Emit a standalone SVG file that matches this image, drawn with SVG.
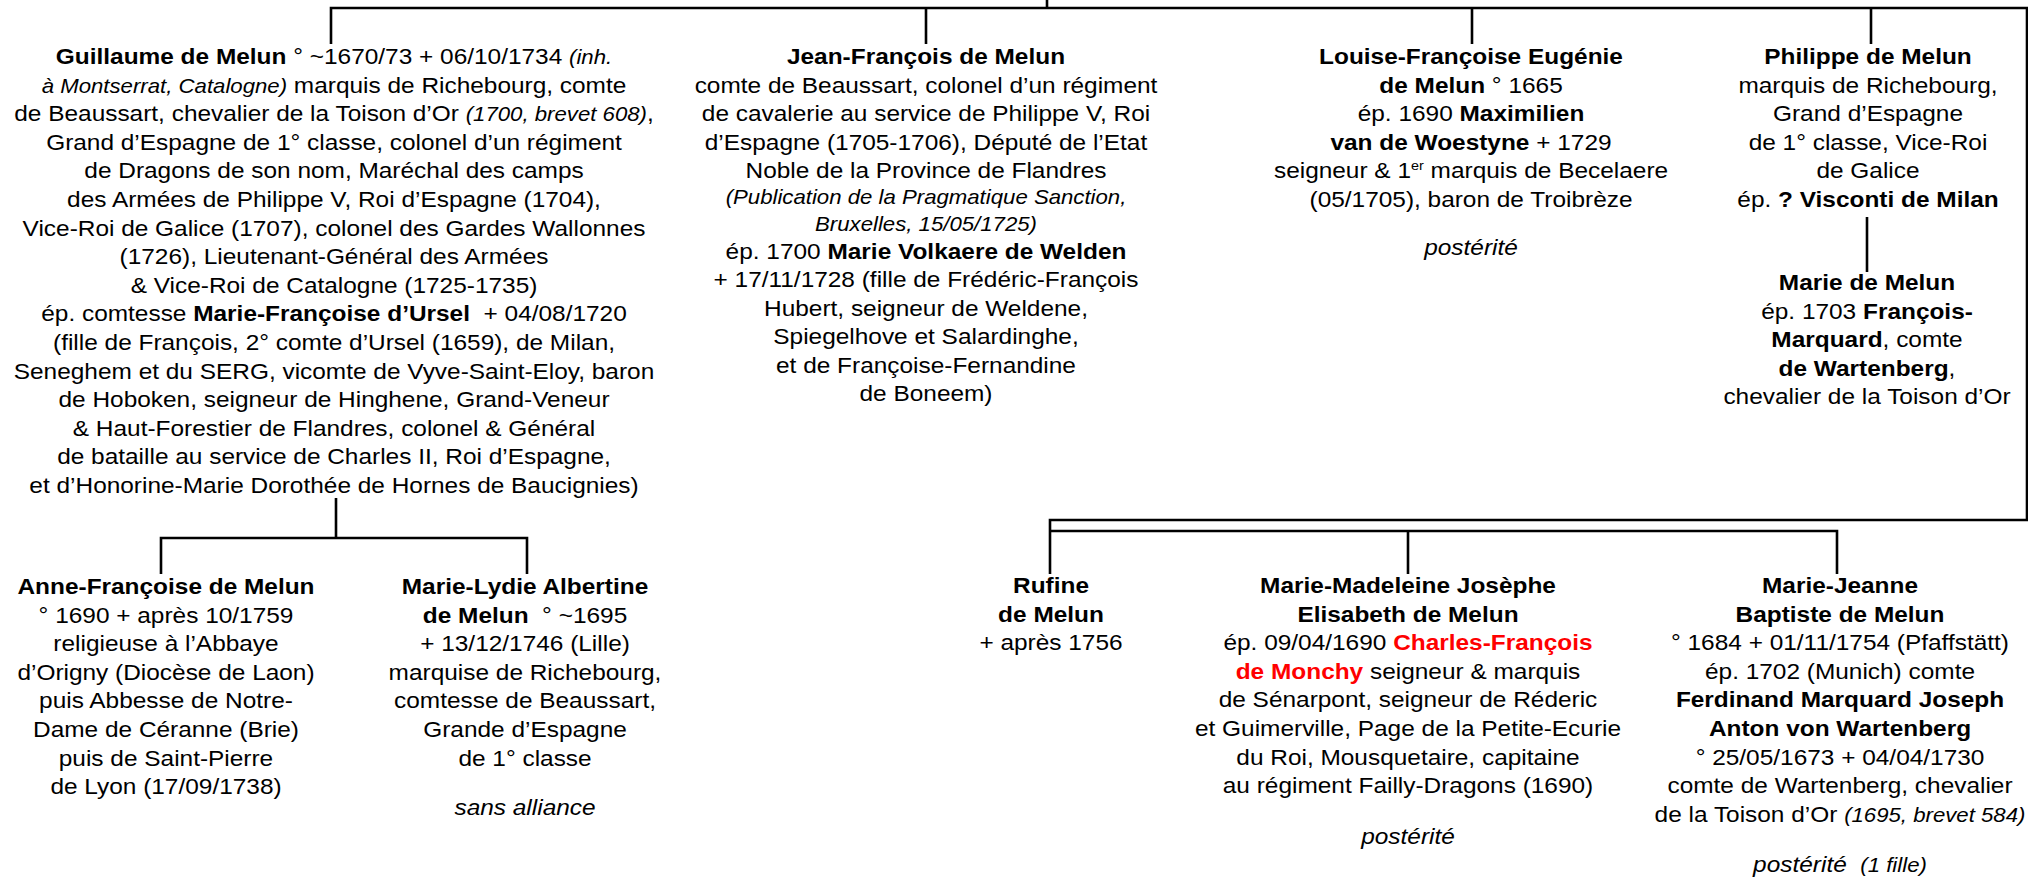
<svg xmlns="http://www.w3.org/2000/svg" width="2028" height="878" viewBox="0 0 2028 878">
<style>
.t{font-family:"Liberation Sans",Arial,sans-serif;font-size:22px;fill:#000;text-anchor:middle}
.b{font-weight:bold}
.i{font-style:italic}
.s{font-size:20px}
.r{fill:#FF0000;font-weight:bold}
.c{fill:none;stroke:#000;stroke-width:2.6}
</style>
<rect width="2028" height="878" fill="#fff"/>
<g id="connectors" class="c">
<path d="M1047,0 V8"/>
<path d="M331,44 V8 H2027 V520 H1050 V574"/>
<path d="M926,8 V44"/>
<path d="M1472,8 V44"/>
<path d="M1871,8 V44"/>
<path d="M1867,217 V272"/>
<path d="M336,498 V538"/>
<path d="M161,574 V538 H527 V574"/>
<path d="M1050,531 H1837 V574"/>
<path d="M1408,531 V574"/>
</g>
<g id="guillaume" class="t" transform="translate(334,0) scale(1.11,1)">
<text y="64"><tspan class="b">Guillaume de Melun</tspan> ° ~1670/73 + 06/10/1734 <tspan class="i s">(inh.</tspan></text>
<text y="92.6"><tspan class="i s">à Montserrat, Catalogne)</tspan> marquis de Richebourg, comte</text>
<text y="121.2">de Beaussart, chevalier de la Toison d’Or <tspan class="i s">(1700, brevet 608)</tspan>,</text>
<text y="149.8">Grand d’Espagne de 1° classe, colonel d’un régiment</text>
<text y="178.4">de Dragons de son nom, Maréchal des camps</text>
<text y="207">des Armées de Philippe V, Roi d’Espagne (1704),</text>
<text y="235.6">Vice-Roi de Galice (1707), colonel des Gardes Wallonnes</text>
<text y="264.2">(1726), Lieutenant-Général des Armées</text>
<text y="292.8">&amp; Vice-Roi de Catalogne (1725-1735)</text>
<text y="321.4">ép. comtesse <tspan class="b">Marie-Françoise d’Ursel</tspan>&#160; + 04/08/1720</text>
<text y="350">(fille de François, 2° comte d’Ursel (1659), de Milan,</text>
<text y="378.6">Seneghem et du SERG, vicomte de Vyve-Saint-Eloy, baron</text>
<text y="407.2">de Hoboken, seigneur de Hinghene, Grand-Veneur</text>
<text y="435.8">&amp; Haut-Forestier de Flandres, colonel &amp; Général</text>
<text y="464.4">de bataille au service de Charles II, Roi d’Espagne,</text>
<text y="493">et d’Honorine-Marie Dorothée de Hornes de Baucignies)</text>
</g>
<g id="jean-francois" class="t" transform="translate(926,0) scale(1.11,1)">
<text y="64" class="b">Jean-François de Melun</text>
<text y="92.6">comte de Beaussart, colonel d’un régiment</text>
<text y="121.2">de cavalerie au service de Philippe V, Roi</text>
<text y="149.8">d’Espagne (1705-1706), Député de l’Etat</text>
<text y="178.4">Noble de la Province de Flandres</text>
<text y="204.5" class="i s">(Publication de la Pragmatique Sanction,</text>
<text y="231" class="i s">Bruxelles, 15/05/1725)</text>
<text y="259">ép. 1700 <tspan class="b">Marie Volkaere de Welden</tspan></text>
<text y="287.5">+ 17/11/1728 (fille de Frédéric-François</text>
<text y="316">Hubert, seigneur de Weldene,</text>
<text y="344.5">Spiegelhove et Salardinghe,</text>
<text y="373">et de Françoise-Fernandine</text>
<text y="401.5">de Boneem)</text>
</g>
<g id="louise" class="t" transform="translate(1471,0) scale(1.11,1)">
<text y="64" class="b">Louise-Françoise Eugénie</text>
<text y="92.6"><tspan class="b">de Melun</tspan> ° 1665</text>
<text y="121.2">ép. 1690 <tspan class="b">Maximilien</tspan></text>
<text y="149.8"><tspan class="b">van de Woestyne</tspan> + 1729</text>
<text y="178.4">seigneur &amp; 1<tspan dy="-8" font-size="13">er</tspan><tspan dy="8"> marquis de Becelaere</tspan></text>
<text y="207">(05/1705), baron de Troibrèze</text>
<text y="255" class="i">postérité</text>
</g>
<g id="philippe" class="t" transform="translate(1868,0) scale(1.11,1)">
<text y="64" class="b">Philippe de Melun</text>
<text y="92.6">marquis de Richebourg,</text>
<text y="121.2">Grand d’Espagne</text>
<text y="149.8">de 1° classe, Vice-Roi</text>
<text y="178.4">de Galice</text>
<text y="207">ép. <tspan class="b">? Visconti de Milan</tspan></text>
</g>
<g id="marie" class="t" transform="translate(1867,0) scale(1.11,1)">
<text y="290" class="b">Marie de Melun</text>
<text y="318.6">ép. 1703 <tspan class="b">François-</tspan></text>
<text y="347.2"><tspan class="b">Marquard</tspan>, comte</text>
<text y="375.8"><tspan class="b">de Wartenberg</tspan>,</text>
<text y="404.4">chevalier de la Toison d’Or</text>
</g>
<g id="anne-francoise" class="t" transform="translate(166,0) scale(1.11,1)">
<text y="594" class="b">Anne-Françoise de Melun</text>
<text y="622.6">° 1690 + après 10/1759</text>
<text y="651.2">religieuse à l’Abbaye</text>
<text y="679.8">d’Origny (Diocèse de Laon)</text>
<text y="708.4">puis Abbesse de Notre-</text>
<text y="737">Dame de Céranne (Brie)</text>
<text y="765.6">puis de Saint-Pierre</text>
<text y="794.2">de Lyon (17/09/1738)</text>
</g>
<g id="marie-lydie" class="t" transform="translate(525,0) scale(1.11,1)">
<text y="594" class="b">Marie-Lydie Albertine</text>
<text y="622.6"><tspan class="b">de Melun</tspan>&#160; ° ~1695</text>
<text y="651.2">+ 13/12/1746 (Lille)</text>
<text y="679.8">marquise de Richebourg,</text>
<text y="708.4">comtesse de Beaussart,</text>
<text y="737">Grande d’Espagne</text>
<text y="765.6">de 1° classe</text>
<text y="815" class="i">sans alliance</text>
</g>
<g id="rufine" class="t" transform="translate(1051,0) scale(1.11,1)">
<text y="593" class="b">Rufine</text>
<text y="621.6" class="b">de Melun</text>
<text y="650.2">+ après 1756</text>
</g>
<g id="marie-madeleine" class="t" transform="translate(1408,0) scale(1.11,1)">
<text y="593" class="b">Marie-Madeleine Josèphe</text>
<text y="621.6" class="b">Elisabeth de Melun</text>
<text y="650.2">ép. 09/04/1690 <tspan class="r">Charles-François</tspan></text>
<text y="678.8"><tspan class="r">de Monchy</tspan> seigneur &amp; marquis</text>
<text y="707.4">de Sénarpont, seigneur de Réderic</text>
<text y="736">et Guimerville, Page de la Petite-Ecurie</text>
<text y="764.6">du Roi, Mousquetaire, capitaine</text>
<text y="793.2">au régiment Failly-Dragons (1690)</text>
<text y="844" class="i">postérité</text>
</g>
<g id="marie-jeanne" class="t" transform="translate(1840,0) scale(1.11,1)">
<text y="593" class="b">Marie-Jeanne</text>
<text y="621.6" class="b">Baptiste de Melun</text>
<text y="650.2">° 1684 + 01/11/1754 (Pfaffstätt)</text>
<text y="678.8">ép. 1702 (Munich) comte</text>
<text y="707.4" class="b">Ferdinand Marquard Joseph</text>
<text y="736" class="b">Anton von Wartenberg</text>
<text y="764.6">° 25/05/1673 + 04/04/1730</text>
<text y="793.2">comte de Wartenberg, chevalier</text>
<text y="821.8">de la Toison d’Or <tspan class="i s">(1695, brevet 584)</tspan></text>
<text y="872" class="i">postérité&#160; <tspan class="s">(1 fille)</tspan></text>
</g>
</svg>
